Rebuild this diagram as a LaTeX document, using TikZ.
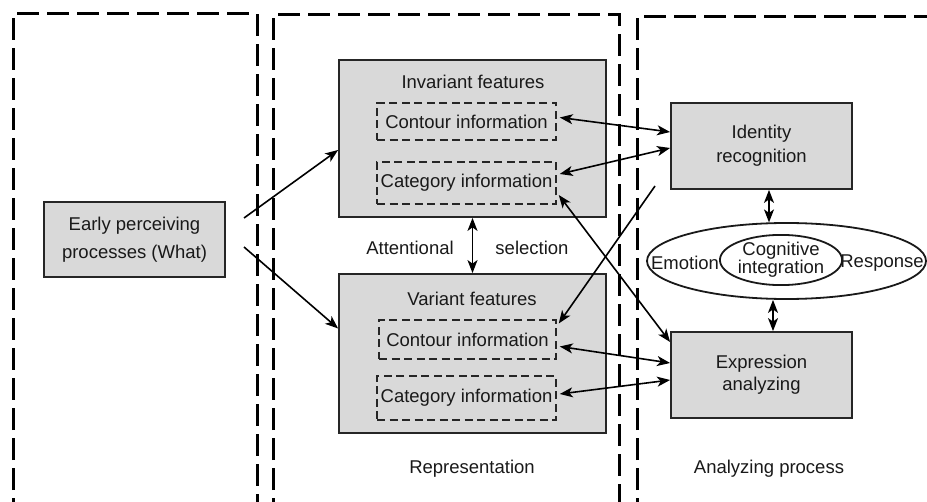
\documentclass[tikz,border=0pt]{standalone}
\usepackage{fontspec}
\setmainfont{Liberation Sans}
\usetikzlibrary{arrows.meta,calc,shapes.geometric}

\begin{document}
\begin{tikzpicture}[x=1bp,y=-1bp,
  font=\fontsize{18.5bp}{22bp}\selectfont,
  panel/.style={line width=3bp, dash pattern=on 22bp off 8bp},
  greybox/.style={draw=black!85, line width=1.8bp, fill=black!15, inner sep=0pt, text=black!90},
  infobox/.style={draw=black!85, line width=1.5bp, dash pattern=on 8bp off 4.5bp, inner sep=0pt, text=black!90},
  lbl/.style={inner sep=0pt, text=black!90},
  link/.style={line width=1.6bp, -{Stealth[length=13bp,width=10bp,inset=3.5bp]}},
  dlink/.style={line width=1.6bp, {Stealth[length=13bp,width=10bp,inset=3.5bp]}-{Stealth[length=13bp,width=10bp,inset=3.5bp]}},
]
\useasboundingbox (0,0) rectangle (927,502);
\clip (0,0) rectangle (927,502);

% three stage panels, open at the bottom
\draw[panel] (13,520) -- (13,14) -- (257,14) -- (257,520);
\draw[panel] (273,520) -- (273,15) -- (619,15) -- (619,520);
\draw[panel] (637,520) -- (637,17) -- (940,17);

% early stage
\node[greybox, minimum width=181bp, minimum height=75bp, align=center,
      font=\fontsize{18.5bp}{28bp}\selectfont] (early) at (134.5,239.5)
      {Early perceiving\\processes (What)};

% representation stage
\node[greybox, minimum width=267bp, minimum height=157bp] (inv) at (472.5,138.5) {};
\node[lbl] (invT) at (473,82) {Invariant features};
\node[infobox, minimum width=179bp, minimum height=37bp] (invC) at (466.5,121.5) {Contour information};
\node[infobox, minimum width=179bp, minimum height=42bp] (invK) at (466.5,183) {Category information};

\node[greybox, minimum width=267bp, minimum height=159bp] (var) at (472.5,353.5) {};
\node[lbl] (varT) at (472,299) {Variant features};
\node[infobox, minimum width=177bp, minimum height=39bp] (varC) at (467.5,339.5) {Contour information};
\node[infobox, minimum width=179bp, minimum height=44bp] (varK) at (466.5,398) {Category information};

\node[lbl] (att) at (410,248) {Attentional};
\node[lbl] (sel) at (532,248) {selection};
\node[lbl] (rep) at (472,469) {Representation};

% analyzing stage
\node[greybox, minimum width=181bp, minimum height=86bp, align=center,
      font=\fontsize{18.5bp}{24bp}\selectfont] (idn) at (761.5,146) {Identity\\recognition};
\node[greybox, minimum width=181bp, minimum height=86bp, align=center,
      font=\fontsize{18.5bp}{22bp}\selectfont] (expr) at (761.5,375) {Expression\\analyzing};

\node[ellipse, draw=black!90, line width=1.8bp, minimum width=279bp, minimum height=76bp,
      inner sep=0pt] (outer) at (786.5,261) {};
\node[ellipse, draw=black!90, line width=1.8bp, minimum width=118bp, minimum height=50bp,
      inner sep=0pt, align=center, text=black!90,
      font=\fontsize{18.5bp}{16.5bp}\selectfont] (cog) at (781,260) {Cognitive\\integration};
\node[lbl] (emo) at (685,263) {Emotion};
\node[lbl] (resp) at (882,263) {Response};

\node[lbl] (ana) at (769,469) {Analyzing process};

% free ends of connectors
\coordinate (s1) at (244,218);
\coordinate (s2) at (244,247);
\coordinate (s3) at (655,186);

% connectors
\draw[link] (s1) -- ($(inv.west)+(0,11.5)$);
\draw[link] (s2) -- ($(var.west)+(0,-25)$);

\draw[dlink] ($(invC.east)+(3,-4)$) -- ($(idn.west)+(0,-14)$);
\draw[dlink] ($(invK.east)+(3,-9)$) -- ($(idn.west)+(0,2)$);
\draw[dlink] ($(invK.east)+(2,12)$) -- ($(expr.west)+(0,-33)$);
\draw[link] (s3) -- ($(varC.east)+(2,-16)$);
\draw[dlink] ($(varC.east)+(3,7)$) -- ($(expr.west)+(0,-12)$);
\draw[dlink] ($(varK.east)+(3,-4)$) -- ($(expr.west)+(0,5)$);

\draw[dlink] (inv.south) -- (var.north);
\draw[dlink] ($(idn.south)+(7.5,0)$) -- ($(outer.north)+(-17.5,0.3)$);
\draw[dlink] ($(outer.south)+(-13.5,0)$) -- ($(expr.north)+(11.5,0)$);
\end{tikzpicture}
\end{document}
